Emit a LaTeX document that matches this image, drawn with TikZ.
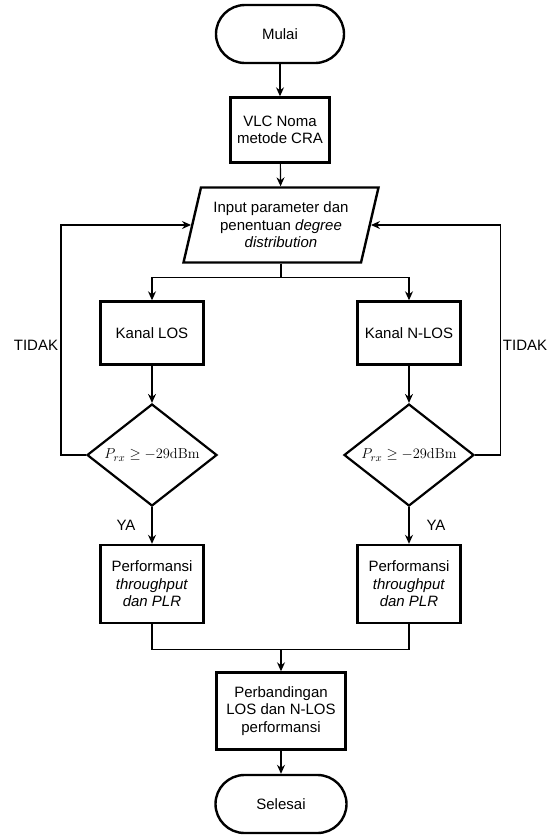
\documentclass[tikz,border=0pt]{standalone}
\usepackage[no-math]{fontspec}
\setmainfont{Liberation Sans}
\usetikzlibrary{shapes.geometric,arrows.meta}

\begin{document}
\begin{tikzpicture}[x=1pt,y=-1pt,font=\fontsize{15}{17.5}\selectfont,
term/.style={draw,line width=2.4pt,rounded corners=29pt,minimum width=128pt,minimum height=58pt},
proc/.style={draw,line width=2.4pt,minimum width=103pt,minimum height=63pt,align=center,inner sep=2pt},
io/.style={draw,line width=2.4pt,trapezium,trapezium stretches body,trapezium left angle=70,trapezium right angle=110,minimum width=195pt,minimum height=75pt,align=center,inner sep=1pt},
cond/.style={draw,line width=2.2pt,diamond,aspect=1.27,minimum width=130pt,minimum height=102pt,inner sep=0pt,font=\fontsize{15}{17}\selectfont},
arr/.style={line width=1.2pt,-{Stealth[length=9pt,width=8pt,inset=3pt]}},lbl/.style={inner sep=0pt}]
\useasboundingbox (0,0) rectangle (548,839);
\node[term] (start) at (280,34) {Mulai};
\node[proc,minimum width=99pt,minimum height=65pt] (vlc) at (280,130) {VLC Noma\\metode CRA};
\node[io] (in) at (281,225) {Input parameter dan\\penentuan \textit{degree}\\\textit{distribution}};
\node[proc,minimum width=129pt,minimum height=77pt] (cmp) at (281,711) {Perbandingan\\LOS dan N-LOS\\performansi};
\node[term,minimum width=131pt] (stop) at (281,804) {Selesai};
\draw[arr] (start) -- (vlc);
\draw[arr] (vlc) -- (in);
\foreach \i/\x/\t/\sd/\dx/\lx/\ya in {1/152/Kanal LOS/west/-25/36/126,2/409/Kanal N-LOS/east/25/525/436}{
\node[proc] (k\i) at (\x,333) {\t};
\node[cond] (d\i) at (\x,455) {$P_{rx}\geq-29\mathrm{dBm}$};
\node[proc,minimum height=78pt] (p\i) at (\x,584) {Performansi\\\textit{throughput}\\\textit{dan PLR}};
\draw[arr] (in.south) -- ++(0,14) -| (k\i.north);
\draw[arr] (k\i) -- (d\i);
\draw[arr] (d\i) -- (p\i);
\draw[arr] (d\i.\sd) -- ++(\dx,0) |- (in.\sd);
\node[lbl] (no\i) at (\lx,345) {TIDAK};
\node[lbl] (ya\i) at (\ya,525) {YA};
}
\draw[line width=1.2pt] (p1.south) -- ++(0,25) -| (p2.south);
\draw[arr] (p1.south) ++(0,25) -| (cmp.north);
\draw[arr] (cmp) -- (stop);
\end{tikzpicture}
\end{document}
